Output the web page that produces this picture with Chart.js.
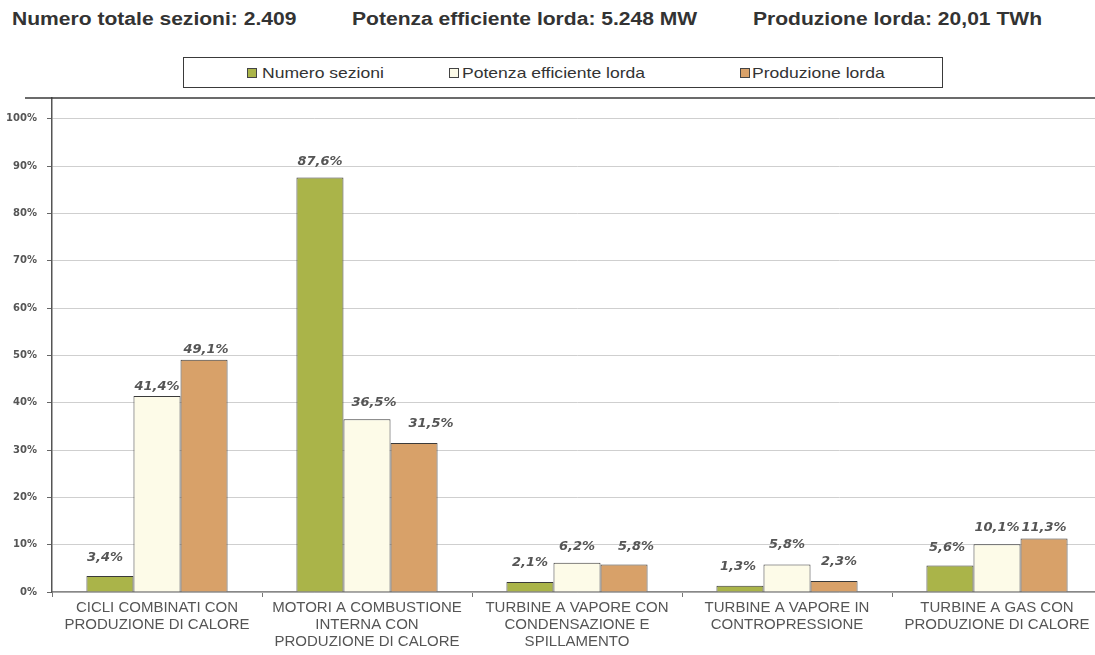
<!DOCTYPE html>
<html lang="it">
<head>
<meta charset="utf-8">
<title>Sezioni cogenerative per tipologia</title>
<script src="https://cdn.jsdelivr.net/npm/chart.js@4.4.1/dist/chart.umd.min.js"></script>
<style>
  html, body { margin: 0; padding: 0; background: #fff; overflow: hidden; }
  body { width: 1095px; height: 655px; position: relative; }
  .head { position: absolute; top: 9px; font: bold 18px "Liberation Sans", Arial, sans-serif; color: #333;
          white-space: nowrap; transform-origin: 0 0; transform: scaleX(1.17); }
  #legend { position: absolute; left: 183px; top: 57px; width: 758px; height: 29px;
            border: 1.5px solid #3a3a3a; box-sizing: content-box; }
  .item { position: absolute; top: 6px; font: 15px "Liberation Sans", Arial, sans-serif; color: #333;
          white-space: nowrap; transform-origin: 0 0; transform: scaleX(1.17); }
  .swatch { position: absolute; top: 10px; width: 8px; height: 8px; border: 1px solid #444; }
  #c { position: absolute; left: 0; top: 0; }
</style>
</head>
<body>
<div class="head" style="left:12px">Numero totale sezioni: 2.409</div>
<div class="head" style="left:352px">Potenza efficiente lorda: 5.248 MW</div>
<div class="head" style="left:753px">Produzione lorda: 20,01 TWh</div>
<div id="legend"></div>
<canvas id="c" width="1110" height="655" style="width:1110px;height:655px"></canvas>
<script>
// Categorie (etichette su più righe) e valori percentuali per serie
const categories = [
  ['CICLI COMBINATI CON', 'PRODUZIONE DI CALORE'],
  ['MOTORI A COMBUSTIONE', 'INTERNA CON', 'PRODUZIONE DI CALORE'],
  ['TURBINE A VAPORE CON', 'CONDENSAZIONE E', 'SPILLAMENTO'],
  ['TURBINE A VAPORE IN', 'CONTROPRESSIONE'],
  ['TURBINE A GAS CON', 'PRODUZIONE DI CALORE']
];
const seriesNames = ['Numero sezioni', 'Potenza efficiente lorda', 'Produzione lorda'];
const numeroSezioni = [3.4, 87.6, 2.1, 1.3, 5.6];
const potenzaEfficiente = [41.4, 36.5, 6.2, 5.8, 10.1];
const produzioneLorda = [49.1, 31.5, 5.8, 2.3, 11.3];
const yTicks = [0, 10, 20, 30, 40, 50, 60, 70, 80, 90, 100];

// Stile delle serie
const fills = ['#aab449', '#fdfbe8', '#d8a169'];
const edge = '#3a3a3a';

// Spostamento delle etichette valore rispetto alla cima della barra [dx, distanza]
const labelNudge = [
  [[-5, 18], [0, 16], [0, 19], [-2, 19], [-3, 18]],
  [[0, 9], [7, 17], [0, 16], [0, 20], [0, 17]],
  [[2, 10], [17, 19], [12, 18], [5, 19], [0, 11]]
];

// Legenda HTML
const legendPos = [[247, 262], [449, 462], [740, 752]];
const legendEl = document.getElementById('legend');
seriesNames.forEach((name, i) => {
  const sw = document.createElement('div');
  sw.className = 'swatch';
  sw.style.left = (legendPos[i][0] - 184) + 'px';
  sw.style.background = fills[i];
  legendEl.appendChild(sw);
  const tx = document.createElement('div');
  tx.className = 'item';
  tx.style.left = (legendPos[i][1] - 184) + 'px';
  tx.textContent = name;
  legendEl.appendChild(tx);
});

const fmt = v => v.toFixed(1).replace('.', ',') + '%';

// Etichette valore sopra le barre
const valueLabels = {
  id: 'valueLabels',
  afterDatasetsDraw(chart) {
    const ctx = chart.ctx;
    ctx.save();
    ctx.font = 'italic bold 13px "DejaVu Sans", Verdana, sans-serif';
    ctx.fillStyle = '#555';
    ctx.textAlign = 'center';
    ctx.textBaseline = 'middle';
    chart.data.datasets.forEach((ds, di) => {
      chart.getDatasetMeta(di).data.forEach((bar, i) => {
        const [dx, dy] = labelNudge[di][i];
        ctx.fillText(fmt(ds.data[i]), bar.x + dx, bar.y - dy);
      });
    });
    ctx.restore();
  }
};

// Cornice superiore dell'area del grafico
const frameLine = {
  id: 'frameLine',
  afterDraw(chart) {
    const ctx = chart.ctx;
    const y = chart.chartArea.top;
    ctx.save();
    ctx.strokeStyle = '#3a3a3a';
    ctx.lineWidth = 1.5;
    ctx.beginPath();
    ctx.moveTo(25, y);
    ctx.lineTo(chart.width, y);
    ctx.stroke();
    ctx.restore();
  }
};

new Chart(document.getElementById('c'), {
  type: 'bar',
  data: {
    labels: categories,
    datasets: [
      { label: seriesNames[0], data: numeroSezioni },
      { label: seriesNames[1], data: potenzaEfficiente },
      { label: seriesNames[2], data: produzioneLorda }
    ].map((d, i) => Object.assign(d, {
      backgroundColor: fills[i],
      borderColor: edge,
      borderWidth: 1,
      borderSkipped: 'bottom',
      categoryPercentage: 0.672,
      barPercentage: 1
    }))
  },
  options: {
    responsive: false,
    animation: false,
    devicePixelRatio: 1,
    layout: { padding: { top: 98, right: 8, left: 0, bottom: 0 } },
    plugins: { legend: { display: false }, tooltip: { enabled: false } },
    scales: {
      x: {
        afterFit: s => { s.height = 63; },
        grid: { display: true, offset: true, drawOnChartArea: false, tickLength: 5, color: '#777' },
        border: { color: '#888', width: 1.5 },
        ticks: {
          autoSkip: false, maxRotation: 0, minRotation: 0, padding: 2,
          color: '#555',
          font: { family: '"Liberation Sans", Arial, sans-serif', size: 15, lineHeight: '17px' }
        }
      },
      y: {
        min: 0,
        max: 104.4,
        afterFit: s => { s.width = 52; },
        afterBuildTicks: s => { s.ticks = yTicks.map(v => ({ value: v })); },
        grid: { color: '#cfcfcf', lineWidth: 1, tickLength: 5, tickColor: '#666' },
        border: { color: '#555', width: 1.5 },
        ticks: {
          padding: 10,
          color: '#555',
          font: { family: '"DejaVu Sans", Verdana, sans-serif', size: 10, weight: 'bold' },
          callback: v => v + '%'
        }
      }
    }
  },
  plugins: [valueLabels, frameLine]
});
</script>
</body>
</html>
